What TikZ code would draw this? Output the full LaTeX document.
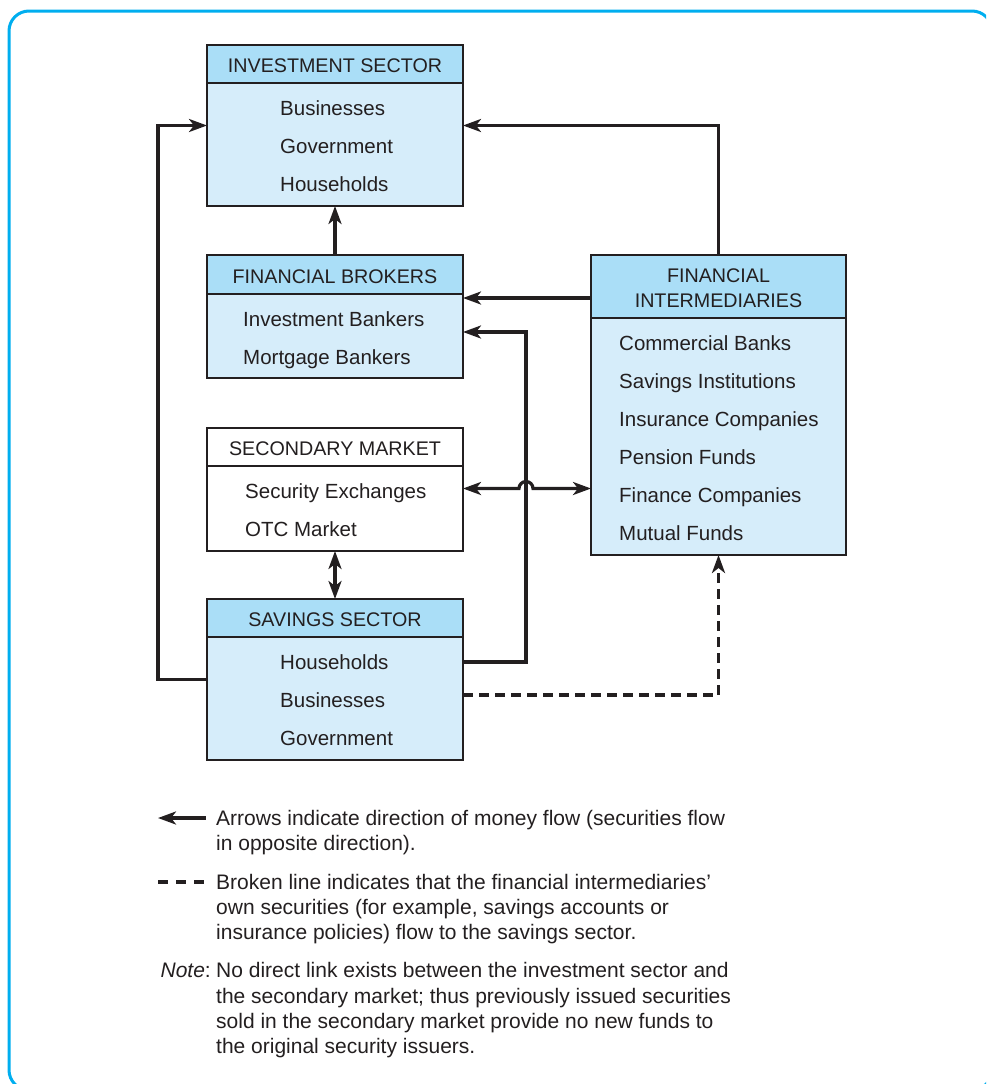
\documentclass[tikz,border=0pt]{standalone}
\usepackage{fontspec}
\setmainfont{Liberation Sans}
\usetikzlibrary{arrows.meta,calc}
\definecolor{frameblue}{RGB}{0,174,239}
\definecolor{headfill}{RGB}{170,222,247}
\definecolor{bodyfill}{RGB}{214,237,250}
\definecolor{ink}{RGB}{35,31,32}
\begin{document}
\begin{tikzpicture}[x=1pt,y=-1pt,
  box/.style={draw=ink,line width=1.4pt,fill=bodyfill,anchor=north west,inner sep=0pt,outer sep=0pt,minimum width=256pt},
  hbox/.style={box,fill=headfill},
  wbox/.style={box,fill=white},
  txt/.style={anchor=base west,inner sep=0pt,font=\fontsize{20.5}{24}\selectfont,text=ink},
  ltxt/.style={txt,font=\fontsize{21}{25}\selectfont},
  htxt/.style={anchor=base,inner sep=0pt,font=\fontsize{19.7}{24}\selectfont,text=ink},
  tip/.tip={Stealth[length=18pt,width=13pt,inset=5pt]},
  flow/.style={line width=3.2pt,draw=ink,-tip},
  both/.style={line width=3.2pt,draw=ink,tip-tip},
  brk/.style={line width=3.2pt,draw=ink,dash pattern=on 10pt off 6pt}
]
\useasboundingbox (0,0) rectangle (986,1084);
\begin{scope}
  \clip (0,0) rectangle (986,1084);
  \draw[frameblue,line width=3pt,rounded corners=20pt] (9,11) rectangle (992,1090);
\end{scope}

% Investment sector
\node[box,minimum height=161pt] (inv) at (207,45) {};
\node[hbox,minimum height=38pt] (invh) at (207,45) {};
\node[htxt] (invt) at (335,72) {INVESTMENT SECTOR};
\node[txt] (inv1) at (280,115) {Businesses};
\node[txt] (inv2) at (280,153) {Government};
\node[txt] (inv3) at (280,191) {Households};

% Financial brokers
\node[box,minimum height=123pt] (brk) at (207,255) {};
\node[hbox,minimum height=39pt] (brkh) at (207,255) {};
\node[htxt] (brkt) at (335,283) {FINANCIAL BROKERS};
\node[txt] (brk1) at (243,326) {Investment Bankers};
\node[txt] (brk2) at (243,364) {Mortgage Bankers};

% Secondary market
\node[wbox,minimum height=123pt] (sec) at (207,428) {};
\node[wbox,minimum height=38pt] (sech) at (207,428) {};
\node[htxt] (sect) at (335,455) {SECONDARY MARKET};
\node[txt] (sec1) at (245,498) {Security Exchanges};
\node[txt] (sec2) at (245,536) {OTC Market};

% Savings sector
\node[box,minimum height=161pt] (sav) at (207,599) {};
\node[hbox,minimum height=38pt] (savh) at (207,599) {};
\node[htxt] (savt) at (335,626) {SAVINGS SECTOR};
\node[txt] (sav1) at (280,669) {Households};
\node[txt] (sav2) at (280,707) {Businesses};
\node[txt] (sav3) at (280,745) {Government};

% Financial intermediaries
\node[box,minimum width=255pt,minimum height=300pt] (fi) at (591,255) {};
\node[hbox,minimum width=255pt,minimum height=63pt] (fih) at (591,255) {};
\node[htxt] (fit1) at (718.5,282) {FINANCIAL};
\node[htxt] (fit2) at (718.5,307) {INTERMEDIARIES};
\node[txt] (fi1) at (619,350) {Commercial Banks};
\node[txt] (fi2) at (619,388) {Savings Institutions};
\node[txt] (fi3) at (619,426) {Insurance Companies};
\node[txt] (fi4) at (619,464) {Pension Funds};
\node[txt] (fi5) at (619,502) {Finance Companies};
\node[txt] (fi6) at (619,540) {Mutual Funds};

% connectors
\coordinate (j) at (526,488.5);
\draw[flow] (sav.west) -- ++(-49,0) |- (inv.west);
\draw[flow] (fi.north) |- (inv.east);
\draw[flow] (brk.north) -- (inv.south);
\draw[flow] ([yshift=-43pt]fi.north west) -- ([yshift=-43pt]brk.north east);
\draw[flow] ([yshift=-63pt]sav.north east) -| (j) |- ([yshift=-77pt]brk.north east);
\draw[both] ([yshift=-60.5pt]sec.north east) -- ([xshift=-7pt,yshift=-60.5pt]j |- sec.north east)
   arc[start angle=180,end angle=0,radius=7pt] -- ([yshift=-60.5pt]fi.north west |- sec.north east);
\draw[both] (sec.south) -- (sav.north);
\draw[brk,-tip] ([yshift=-96pt]sav.north east) -| (fi.south);

% legend
\coordinate (la1) at (158,818);
\coordinate (la2) at (206,818);
\draw[flow,tip-] (la1) -- (la2);
\coordinate (lb1) at (158,882);
\coordinate (lb2) at (206,882);
\draw[brk,dash pattern=on 10pt off 8pt] (lb1) -- (lb2);
\node[ltxt] (l1) at (216,825) {Arrows indicate direction of money flow (securities flow};
\node[ltxt] (l2) at (216,850) {in opposite direction).};
\node[ltxt] (l3) at (216,889) {Broken line indicates that the financial intermediaries’};
\node[ltxt] (l4) at (216,914) {own securities (for example, savings accounts or};
\node[ltxt] (l5) at (216,939) {insurance policies) flow to the savings sector.};
\node[ltxt,anchor=base east] (l6n) at (211,977) {\textit{Note}:};
\node[ltxt] (l6) at (216,977) {No direct link exists between the investment sector and};
\node[ltxt] (l7) at (216,1003) {the secondary market; thus previously issued securities};
\node[ltxt] (l8) at (216,1028) {sold in the secondary market provide no new funds to};
\node[ltxt] (l9) at (216,1053) {the original security issuers.};
\end{tikzpicture}
\end{document}
